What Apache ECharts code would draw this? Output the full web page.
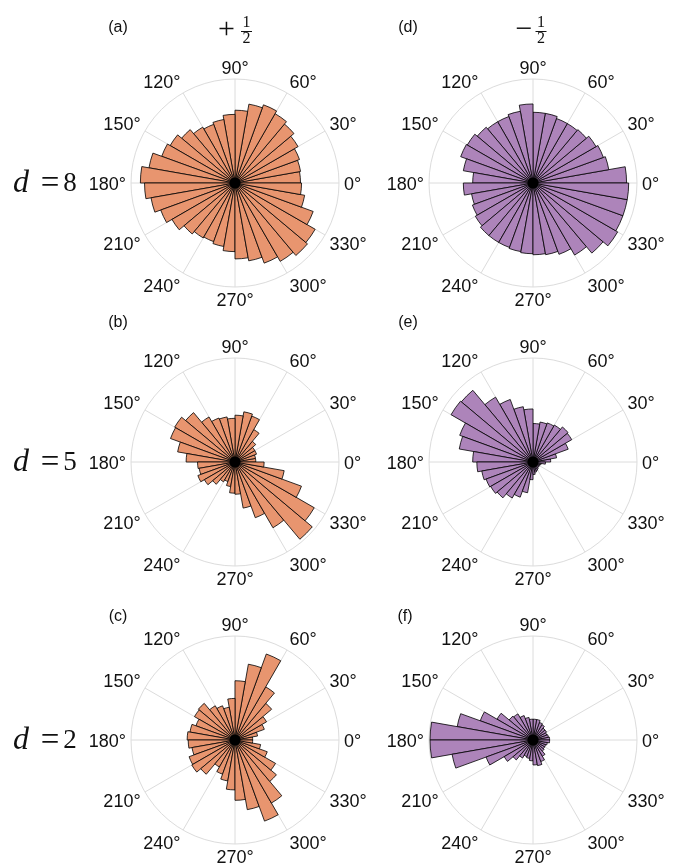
<!DOCTYPE html>
<html>
<head>
<meta charset="utf-8">
<script src="https://cdn.jsdelivr.net/npm/echarts@6/dist/echarts.min.js"></script>
<style>
html,body{margin:0;padding:0;background:#fff;}
#main{width:678px;height:867px;}
</style>
</head>
<body>
<div id="main"></div>
<script>
// 36 angular bins of 10 degrees, starting at 0 deg, counter-clockwise
const bins = Array.from({length:36}, (_, i) => (i*10) + '-' + (i*10+10));
const angleTicks = [0,30,60,90,120,150,180,210,240,270,300,330];

// relative frequencies (outer circle = 1)
const a_plus_d8  = [0.63,0.64,0.66,0.70,0.74,0.77,0.80,0.77,0.70,0.66,0.62,0.60,0.62,0.67,0.72,0.75,0.84,0.91,0.87,0.82,0.76,0.70,0.64,0.61,0.60,0.62,0.66,0.73,0.76,0.82,0.87,0.91,0.89,0.80,0.68,0.64];
const b_plus_d5  = [0.20,0.20,0.22,0.22,0.26,0.36,0.47,0.49,0.45,0.42,0.44,0.45,0.50,0.62,0.67,0.66,0.56,0.47,0.36,0.35,0.38,0.34,0.28,0.22,0.20,0.24,0.30,0.31,0.45,0.57,0.73,0.97,0.88,0.68,0.48,0.28];
const c_plus_d2  = [0.17,0.22,0.30,0.35,0.46,0.59,0.88,0.74,0.57,0.40,0.32,0.35,0.38,0.46,0.45,0.40,0.44,0.46,0.45,0.42,0.47,0.48,0.43,0.30,0.35,0.40,0.48,0.58,0.68,0.83,0.70,0.52,0.45,0.33,0.25,0.17];
const d_minus_d8 = [0.90,0.74,0.72,0.70,0.67,0.66,0.66,0.68,0.68,0.76,0.70,0.68,0.68,0.70,0.73,0.74,0.68,0.58,0.67,0.60,0.62,0.64,0.66,0.66,0.66,0.67,0.68,0.69,0.70,0.73,0.80,0.88,0.94,0.92,0.92,0.92];
const e_minus_d5 = [0.17,0.23,0.36,0.43,0.44,0.41,0.40,0.39,0.37,0.51,0.54,0.64,0.72,0.90,0.91,0.75,0.72,0.58,0.54,0.50,0.48,0.47,0.45,0.40,0.36,0.30,0.17,0.12,0.10,0.09,0.08,0.07,0.07,0.07,0.08,0.12];
const f_minus_d2 = [0.16,0.15,0.14,0.15,0.15,0.17,0.18,0.20,0.20,0.20,0.22,0.25,0.29,0.30,0.40,0.54,0.74,0.99,0.99,0.79,0.48,0.32,0.25,0.20,0.17,0.18,0.20,0.24,0.25,0.22,0.18,0.14,0.13,0.13,0.14,0.16];

const panelTags = ['(a)','(b)','(c)','(d)','(e)','(f)'];
const rowLabels = ['8','5','2'];
const colTitles = ['+','\u2212'];

const ORANGE = '#e8956f';
const PURPLE = '#ad84ba';

const panels = [
  {data:a_plus_d8,  col:0, row:0, color:ORANGE},
  {data:b_plus_d5,  col:0, row:1, color:ORANGE},
  {data:c_plus_d2,  col:0, row:2, color:ORANGE},
  {data:d_minus_d8, col:1, row:0, color:PURPLE},
  {data:e_minus_d5, col:1, row:1, color:PURPLE},
  {data:f_minus_d2, col:1, row:2, color:PURPLE}
];

const colX = [235, 533];
const rowY = [183, 462, 740];
const R = 104;
const tagPos = [[118,28],[118,323],[118,617],[408,28],[408,323],[405,617]];
const LABEL_FONT = '18px "Liberation Sans", Arial, sans-serif';

const polar = [], angleAxis = [], radiusAxis = [], series = [];
panels.forEach((p, k) => {
  const c = [colX[p.col], rowY[p.row]];
  // grid polar (outer circle + spokes every 30 deg)
  const gi = polar.length;
  polar.push({center:c, radius:R});
  angleAxis.push({
    polarIndex:gi, type:'value', min:0, max:360, interval:30,
    startAngle:0, clockwise:false, z:0,
    axisLine:{show:true, lineStyle:{color:'#dcdcdc', width:1}},
    axisTick:{show:false},
    splitLine:{show:true, lineStyle:{color:'#dcdcdc', width:1}},
    axisLabel:{show:false}
  });
  radiusAxis.push({polarIndex:gi, type:'value', min:0, max:1, show:false,
    axisLine:{show:false}, axisLabel:{show:false}, splitLine:{show:false}, axisTick:{show:false}});
  // bar polar
  const bi = polar.length;
  polar.push({center:c, radius:R});
  angleAxis.push({polarIndex:bi, type:'category', data:bins, startAngle:0, clockwise:false, show:false,
    axisLine:{show:false}, splitLine:{show:false}, axisLabel:{show:false}, axisTick:{show:false}});
  radiusAxis.push({polarIndex:bi, type:'value', min:0, max:1, show:false,
    axisLine:{show:false}, axisLabel:{show:false}, splitLine:{show:false}, axisTick:{show:false}});
  series.push({
    type:'bar', coordinateSystem:'polar', polarIndex:bi, data:p.data,
    barCategoryGap:'0%', barGap:'0%', z:3, silent:true, animation:false,
    itemStyle:{color:p.color, borderColor:'#000', borderWidth:0.8}
  });
});

const graphic = [];
// angle tick labels placed just outside the circle, edge-anchored
const mctx = document.createElement('canvas').getContext('2d');
mctx.font = LABEL_FONT;
const clamp1 = v => Math.max(-1, Math.min(1, v));
panels.forEach(p => {
  const cx = colX[p.col], cy = rowY[p.row];
  angleTicks.forEach(t => {
    const txt = t + '\u00b0';
    const hw = mctx.measureText(txt).width / 2, hh = 10, r0 = R + 2;
    const th = t * Math.PI / 180, co = Math.cos(th), si = Math.sin(th);
    const x = cx + r0 * co + hw * clamp1(co / 0.5) + 3 * co;
    const y = cy - r0 * si - hh * clamp1(si / 0.7) + 2;
    graphic.push({type:'text', x:x, y:y,
      style:{text:txt, font:LABEL_FONT, fill:'#111', textAlign:'center', textVerticalAlign:'middle'}});
  });
});
// central hub where the bar edges converge
panels.forEach(p => {
  graphic.push({type:'circle', z:10, shape:{cx:colX[p.col], cy:rowY[p.row], r:5.5}, style:{fill:'#000'}});
});
// panel tags
panels.forEach((p, k) => {
  graphic.push({type:'text', x:tagPos[k][0], y:tagPos[k][1],
    style:{text:panelTags[k], font:'16px "Liberation Sans", Arial, sans-serif', fill:'#111', textAlign:'center', textVerticalAlign:'middle'}});
});
// row labels d = N
rowLabels.forEach((n, r) => {
  const y = rowY[r] + 1;
  graphic.push({type:'text', x:21, y:y, style:{text:'d', font:'italic 32px "Liberation Serif", serif', fill:'#111', textAlign:'center', textVerticalAlign:'middle'}});
  graphic.push({type:'text', x:50, y:y, style:{text:'=', font:'33px "Liberation Serif", serif', fill:'#111', textAlign:'center', textVerticalAlign:'middle'}});
  graphic.push({type:'text', x:70, y:y, style:{text:n, font:'27px "Liberation Serif", serif', fill:'#111', textAlign:'center', textVerticalAlign:'middle'}});
});
// column titles  +1/2  and  -1/2
colTitles.forEach((s, ci) => {
  const sx = ci === 0 ? 226.5 : 524;
  const fx = ci === 0 ? 246.5 : 541;
  graphic.push({type:'text', x:sx, y:30, style:{text:s, font:'30px "Liberation Serif", serif', fill:'#111', textAlign:'center', textVerticalAlign:'middle'}});
  graphic.push({type:'text', x:fx, y:23, style:{text:'1', font:'16px "Liberation Serif", serif', fill:'#111', textAlign:'center', textVerticalAlign:'middle'}});
  graphic.push({type:'line', shape:{x1:fx-5.5, y1:31.5, x2:fx+5.5, y2:31.5}, style:{stroke:'#111', lineWidth:1}});
  graphic.push({type:'text', x:fx, y:39, style:{text:'2', font:'16px "Liberation Serif", serif', fill:'#111', textAlign:'center', textVerticalAlign:'middle'}});
});

const chart = echarts.init(document.getElementById('main'), null, {renderer:'canvas'});
chart.setOption({
  animation:false,
  backgroundColor:'#fff',
  polar, angleAxis, radiusAxis, series, graphic
});
</script>
</body>
</html>
